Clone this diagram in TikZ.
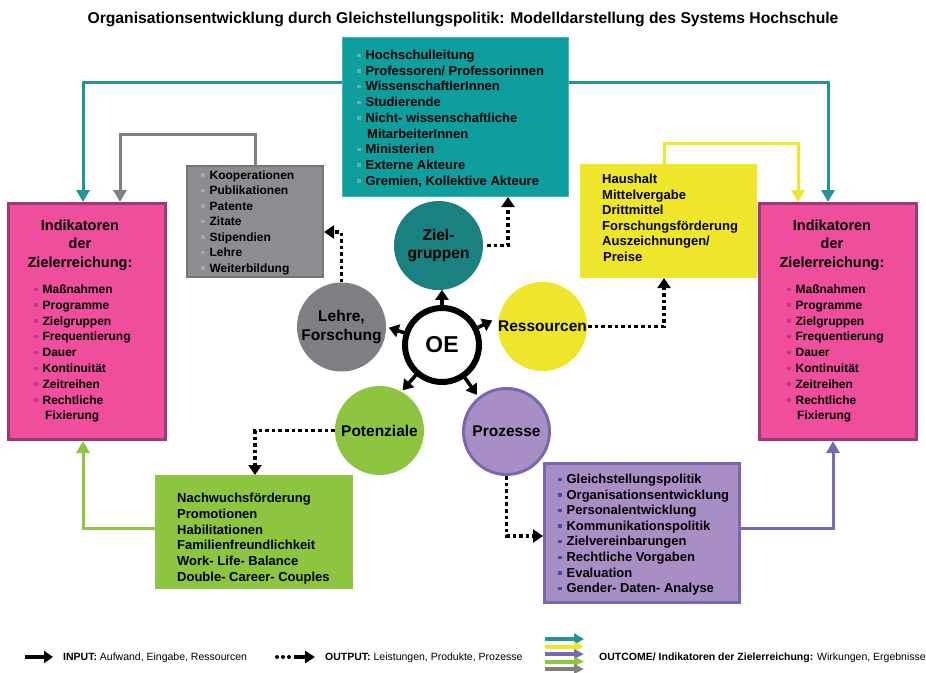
\documentclass[tikz,border=0pt]{standalone}
\usepackage{fontspec}
\setmainfont{Liberation Sans}
\usetikzlibrary{arrows.meta,calc}
\definecolor{tealbox}{HTML}{0E9E9E}
\definecolor{tealboxb}{HTML}{46B5B5}
\definecolor{tealcirc}{HTML}{1B8080}
\definecolor{tealline}{HTML}{22949A}
\definecolor{graybox}{HTML}{8B8D91}
\definecolor{grayborder}{HTML}{737579}
\definecolor{graycirc}{HTML}{7E7E85}
\definecolor{grayline}{HTML}{808080}
\definecolor{yel}{HTML}{EFE52B}
\definecolor{pinkfill}{HTML}{EE4E9B}
\definecolor{pinkborder}{HTML}{9C3B70}
\definecolor{pinkbul}{HTML}{C7377F}
\definecolor{grn}{HTML}{8DC540}
\definecolor{purfill}{HTML}{A98EC5}
\definecolor{purborder}{HTML}{7A68AF}
\definecolor{purbul}{HTML}{3D4FA8}
\definecolor{tealbul}{HTML}{5FB0B0}
\definecolor{graybul}{HTML}{A6A6A8}
\newcommand\bul[1]{\textcolor{#1}{\rule[2.6pt]{3.4pt}{3.4pt}}\hspace{5pt}}
\tikzset{
  boxst/.style={rectangle, anchor=north west, inner sep=0pt, outer sep=0pt},
  itm/.style={anchor=base west, inner sep=0pt, font=\fontsize{13}{15}\selectfont\bfseries},
  itms/.style={anchor=base west, inner sep=0pt, font=\fontsize{12}{14}\selectfont\bfseries},
  ttl/.style={anchor=base, inner sep=0pt, font=\fontsize{14.5}{17}\selectfont\bfseries},
  circ/.style={circle, minimum size=89pt, inner sep=0pt, font=\fontsize{15.5}{18.5}\selectfont\bfseries, align=center},
  oearr/.style={line width=3.5pt, -{Triangle[width=13pt,length=10pt]}},
  dotarr/.style={line width=3.6pt, dash pattern=on 3.6pt off 3pt, -{Triangle[width=13pt,length=10pt]}},
  conn/.style={line width=3pt, -{Triangle[width=13pt,length=12pt]}},
  leg/.style={anchor=base west, inner sep=0pt, font=\fontsize{10.5}{12}\selectfont},
  legarr/.style={line width=4pt, -{Triangle[width=9pt,length=10pt]}}
}
\begin{document}
\begin{tikzpicture}[x=1pt,y=-1pt]
\useasboundingbox[fill=white] (0,0) rectangle (926,672);

% title
\node[anchor=base, inner sep=0pt, font=\fontsize{15.7}{18}\selectfont\bfseries] (title) at (463,23.5) {Organisationsentwicklung durch Gleichstellungspolitik: Modelldarstellung des Systems Hochschule};

% boxes
\node[boxst, fill=tealbox, draw=tealboxb, line width=1pt, minimum width=226pt, minimum height=159pt] (zgbox) at (342.5,37.5) {};
\node[boxst, fill=graybox, draw=grayborder, line width=2pt, minimum width=136pt, minimum height=111pt] (gbox) at (187,166) {};
\node[boxst, fill=yel, minimum width=177pt, minimum height=114pt] (ybox) at (580,164) {};
\node[boxst, fill=pinkfill, draw=pinkborder, line width=3pt, minimum width=157pt, minimum height=236pt] (lpink) at (8.5,203.5) {};
\node[boxst, fill=pinkfill, draw=pinkborder, line width=3pt, minimum width=157pt, minimum height=236pt] (rpink) at (759.5,203.5) {};
\node[boxst, fill=grn, minimum width=198pt, minimum height=114pt] (gnbox) at (155,475) {};
\node[boxst, fill=purfill, draw=purborder, line width=3pt, minimum width=195pt, minimum height=139pt] (prbox) at (544.5,463.5) {};

% connector end points
\coordinate (zgL) at (342,82);
\coordinate (zgR) at (569,82);
\coordinate (lpT) at (83,202);
\coordinate (lpG) at (120,202);
\coordinate (rpY) at (798,202);
\coordinate (rpT) at (828,202);
\coordinate (yT) at (664,165);
\coordinate (gnL) at (156,528);
\coordinate (lpB) at (83,441);
\coordinate (prR) at (740,528);
\coordinate (rpB) at (833,441);

% outcome connectors
\draw[conn, tealline] (zgL) -| (lpT);
\draw[conn, tealline] (zgR) -| (rpT);
\draw[conn, grayline] (gbox.north) -- ++(0,-32) -| (lpG);
\draw[conn, yel] (yT) -- ++(0,-22) -| (rpY);
\draw[conn, grn] (gnL) -| (lpB);
\draw[conn, purborder] (prR) -| (rpB);

% circles
\node[circ, fill=tealcirc] (zgc) at (438.5,245.5) {Ziel-\\gruppen};
\node[circ, fill=graycirc] (lfc) at (341.5,327) {Lehre,\\Forschung};
\node[circ, fill=yel] (rsc) at (542.5,326.5) {Ressourcen};
\node[circ, fill=grn] (ptc) at (379.5,430.5) {Potenziale};
\node[circ, fill=purfill, draw=purborder, line width=3pt, minimum size=86pt] (prc) at (506.5,431.5) {Prozesse};
\node[circle, draw=black, fill=white, line width=6pt, minimum size=74pt, inner sep=0pt, font=\fontsize{23}{26}\selectfont\bfseries] (oe) at (442,345) {OE};

% OE arrows
\foreach \a/\f in {90/1.38, 162/1.4, 26/1.4, 229/1.5, 305/1.52}
  \draw[oearr] ($(oe.center)!0.97!(oe.\a)$) -- ($(oe.center)!\f!(oe.\a)$);

% output (dotted) connectors
\coordinate (zgT) at (508,197);
\coordinate (gT) at (324,232);
\coordinate (yB) at (664,278);
\coordinate (gnT) at (255,475);
\coordinate (prT) at (543,536);
\draw[dotarr] ($(zgc.east)+(4,0)$) -| (zgT);
\draw[dotarr] (lfc.north) |- (gT);
\draw[dotarr] ($(rsc.east)+(1,0)$) -| (yB);
\draw[dotarr] (ptc.west) -| (gnT);
\draw[dotarr] (prc.south) |- (prT);

% teal box text
\node[itm] (zg1) at (357,59.5) {\bul{tealbul}Hochschulleitung};
\node[itm] (zg2) at (357,75.2) {\bul{tealbul}Professoren/ Professorinnen};
\node[itm] (zg3) at (357,90.9) {\bul{tealbul}WissenschaftlerInnen};
\node[itm] (zg4) at (357,106.6) {\bul{tealbul}Studierende};
\node[itm] (zg5) at (357,122.3) {\bul{tealbul}Nicht- wissenschaftliche};
\node[itm] (zg6) at (367,138) {MitarbeiterInnen};
\node[itm] (zg7) at (357,153.7) {\bul{tealbul}Ministerien};
\node[itm] (zg8) at (357,169.4) {\bul{tealbul}Externe Akteure};
\node[itm] (zg9) at (357,185.1) {\bul{tealbul}Gremien, Kollektive Akteure};

% gray box text
\node[itms] (g1) at (201,179.3) {\bul{graybul}Kooperationen};
\node[itms] (g2) at (201,194.8) {\bul{graybul}Publikationen};
\node[itms] (g3) at (201,210.3) {\bul{graybul}Patente};
\node[itms] (g4) at (201,225.8) {\bul{graybul}Zitate};
\node[itms] (g5) at (201,241.3) {\bul{graybul}Stipendien};
\node[itms] (g6) at (201,256.8) {\bul{graybul}Lehre};
\node[itms] (g7) at (201,272.3) {\bul{graybul}Weiterbildung};

% yellow box text
\node[itm] (y1) at (602,183.5) {Haushalt};
\node[itm] (y2) at (602,199.1) {Mittelvergabe};
\node[itm] (y3) at (602,214.7) {Drittmittel};
\node[itm] (y4) at (602,230.3) {Forschungsförderung};
\node[itm] (y5) at (602,245.9) {Auszeichnungen/};
\node[itm] (y6) at (603,261.5) {Preise};

% left pink text
\node[ttl] (lt1) at (80,230) {Indikatoren};
\node[ttl] (lt2) at (80,248.5) {der};
\node[ttl] (lt3) at (80,267) {Zielerreichung:};
\node[itms] (l1) at (34,293.5) {\bul{pinkbul}Maßnahmen};
\node[itms] (l2) at (34,309.3) {\bul{pinkbul}Programme};
\node[itms] (l3) at (34,325.1) {\bul{pinkbul}Zielgruppen};
\node[itms] (l4) at (34,340.9) {\bul{pinkbul}Frequentierung};
\node[itms] (l5) at (34,356.7) {\bul{pinkbul}Dauer};
\node[itms] (l6) at (34,372.5) {\bul{pinkbul}Kontinuität};
\node[itms] (l7) at (34,388.3) {\bul{pinkbul}Zeitreihen};
\node[itms] (l8) at (34,404.1) {\bul{pinkbul}Rechtliche};
\node[itms] (l9) at (45,419.9) {Fixierung};

% right pink text
\node[ttl] (rt1) at (832,230) {Indikatoren};
\node[ttl] (rt2) at (832,248.5) {der};
\node[ttl] (rt3) at (832,267) {Zielerreichung:};
\node[itms] (r1) at (787,293.5) {\bul{pinkbul}Maßnahmen};
\node[itms] (r2) at (787,309.3) {\bul{pinkbul}Programme};
\node[itms] (r3) at (787,325.1) {\bul{pinkbul}Zielgruppen};
\node[itms] (r4) at (787,340.9) {\bul{pinkbul}Frequentierung};
\node[itms] (r5) at (787,356.7) {\bul{pinkbul}Dauer};
\node[itms] (r6) at (787,372.5) {\bul{pinkbul}Kontinuität};
\node[itms] (r7) at (787,388.3) {\bul{pinkbul}Zeitreihen};
\node[itms] (r8) at (787,404.1) {\bul{pinkbul}Rechtliche};
\node[itms] (r9) at (797,419.9) {Fixierung};

% green box text
\node[itm] (n1) at (177,502.5) {Nachwuchsförderung};
\node[itm] (n2) at (177,518.3) {Promotionen};
\node[itm] (n3) at (177,534.1) {Habilitationen};
\node[itm] (n4) at (177,549.9) {Familienfreundlichkeit};
\node[itm] (n5) at (177,565.7) {Work- Life- Balance};
\node[itm] (n6) at (177,581.5) {Double- Career- Couples};

% purple box text
\node[itm] (p1) at (558,483.5) {\bul{purbul}Gleichstellungspolitik};
\node[itm] (p2) at (558,499.1) {\bul{purbul}Organisationsentwicklung};
\node[itm] (p3) at (558,514.7) {\bul{purbul}Personalentwicklung};
\node[itm] (p4) at (558,530.3) {\bul{purbul}Kommunikationspolitik};
\node[itm] (p5) at (558,545.9) {\bul{purbul}Zielvereinbarungen};
\node[itm] (p6) at (558,561.5) {\bul{purbul}Rechtliche Vorgaben};
\node[itm] (p7) at (558,577.1) {\bul{purbul}Evaluation};
\node[itm] (p8) at (558,592.7) {\bul{purbul}Gender- Daten- Analyse};

% legend
\coordinate (la1) at (25,657);
\coordinate (la2) at (53,657);
\draw[line width=4.5pt, -{Triangle[width=12pt,length=9pt]}] (la1) -- (la2);
\node[leg] (lg1) at (63,660.8) {\textbf{INPUT:} Aufwand, Eingabe, Ressourcen};
\coordinate (ld1) at (277,657);
\coordinate (ld2) at (290,657);
\coordinate (ld3) at (294,657);
\coordinate (ld4) at (315,657);
\draw[line width=4pt, line cap=round, dash pattern=on 0pt off 6pt] (ld1) -- (ld2);
\draw[line width=4pt, -{Triangle[width=12pt,length=10pt]}] (ld3) -- (ld4);
\node[leg] (lg2) at (325,660.8) {\textbf{OUTPUT:} Leistungen, Produkte, Prozesse};
\foreach \c/\yy/\w in {tealline/639/11, yel/646.5/9, purborder/654/9, grn/661.5/9, grayline/669/9}
  \draw[legarr, \c, -{Triangle[width=\w pt,length=10pt]}] (545,\yy) -- (584,\yy);
\node[leg] (lg3) at (599,660.8) {\textbf{OUTCOME/ Indikatoren der Zielerreichung:} Wirkungen, Ergebnisse};
\end{tikzpicture}
\end{document}
